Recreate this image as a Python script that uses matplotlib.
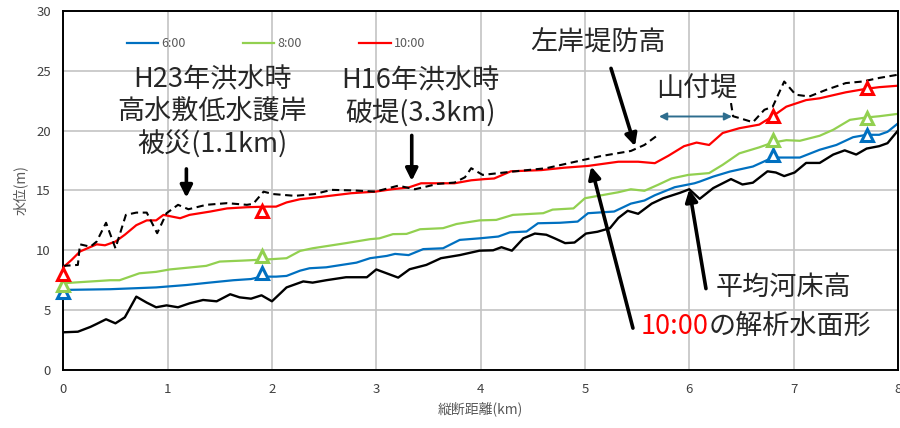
import numpy as np
import matplotlib
matplotlib.use("Agg")
import matplotlib.pyplot as plt

plt.rcParams["font.family"] = ["Noto Sans CJK JP", "DejaVu Sans"]

# 縦断距離 (km) と各水位 (m)
bed_x = [0, 0.14, 0.26, 0.32, 0.41, 0.50, 0.59, 0.70, 0.80, 0.89, 0.99, 1.10, 1.21, 1.34,
         1.47, 1.60, 1.69, 1.80, 1.90, 2.00, 2.08, 2.14, 2.30, 2.39, 2.52, 2.71, 2.91, 3.00,
         3.21, 3.32, 3.48, 3.62, 3.80, 3.99, 4.12, 4.20, 4.30, 4.41, 4.52, 4.63, 4.71, 4.81,
         4.90, 5.01, 5.12, 5.24, 5.32, 5.41, 5.51, 5.64, 5.75, 5.91, 6.00, 6.10, 6.23, 6.40,
         6.51, 6.61, 6.75, 6.83, 6.91, 7.01, 7.12, 7.25, 7.38, 7.49, 7.60, 7.70, 7.82, 7.90, 8.00]
bed_z = [3.15, 3.2, 3.6, 3.85, 4.24, 3.9, 4.4, 6.13, 5.63, 5.24, 5.4, 5.24, 5.57, 5.85,
         5.74, 6.33, 6.07, 5.96, 6.24, 5.74, 6.4, 6.9, 7.4, 7.3, 7.5, 7.75, 7.75, 8.4,
         7.72, 8.42, 8.78, 9.34, 9.6, 9.97, 10.0, 10.26, 9.97, 11.0, 11.4, 11.3, 11.0, 10.6,
         10.65, 11.4, 11.55, 11.85, 12.7, 13.3, 13.05, 13.9, 14.35, 14.8, 15.1, 14.3, 15.2, 15.95,
         15.5, 15.65, 16.6, 16.5, 16.2, 16.5, 17.3, 17.3, 18.0, 18.35, 18.0, 18.5, 18.7, 18.95, 20.0]

wl06_x = [0, 0.45, 0.89, 1.18, 1.40, 1.63, 1.80, 1.90, 2.04, 2.14, 2.27, 2.36, 2.52, 2.81,
          2.94, 3.10, 3.18, 3.31, 3.45, 3.64, 3.80, 3.99, 4.17, 4.28, 4.44, 4.55, 4.76, 4.93,
          5.03, 5.28, 5.44, 5.57, 5.67, 5.86, 6.05, 6.10, 6.23, 6.39, 6.61, 6.80, 7.06, 7.25,
          7.41, 7.57, 7.70, 7.82, 7.90, 8.00]
wl06_z = [6.69, 6.75, 6.9, 7.1, 7.3, 7.5, 7.6, 7.8, 7.8, 7.86, 8.3, 8.5, 8.58, 8.97,
          9.34, 9.53, 9.7, 9.6, 10.1, 10.17, 10.87, 11.0, 11.15, 11.5, 11.57, 12.26, 12.3, 12.4,
          13.1, 13.24, 13.9, 14.16, 14.6, 15.27, 15.6, 15.74, 16.16, 16.58, 17.0, 17.75, 17.75, 18.4,
          18.8, 19.45, 19.65, 19.65, 19.9, 20.6]

wl08_x = [0, 0.45, 0.54, 0.73, 0.89, 1.02, 1.37, 1.50, 1.72, 1.98, 2.14, 2.27, 2.39, 2.71,
          2.94, 3.03, 3.16, 3.29, 3.42, 3.64, 3.77, 3.99, 4.15, 4.31, 4.60, 4.69, 4.89, 5.00,
          5.16, 5.32, 5.44, 5.57, 5.70, 5.83, 5.99, 6.19, 6.32, 6.48, 6.67, 6.80, 6.93, 7.06,
          7.25, 7.38, 7.54, 7.70, 7.82, 8.00]
wl08_z = [7.25, 7.5, 7.5, 8.08, 8.2, 8.4, 8.7, 9.06, 9.14, 9.25, 9.34, 9.95, 10.17, 10.6,
          10.93, 11.0, 11.35, 11.37, 11.76, 11.85, 12.2, 12.5, 12.54, 12.96, 13.1, 13.4, 13.5, 14.35,
          14.6, 14.85, 15.1, 14.97, 15.47, 16.0, 16.3, 16.45, 17.14, 18.1, 18.6, 19.0, 19.2, 19.15,
          19.57, 20.07, 20.9, 21.1, 21.2, 21.4]

wl10_x = [0, 0.08, 0.16, 0.32, 0.40, 0.50, 0.59, 0.70, 0.80, 0.89, 0.96, 1.12, 1.21, 1.41,
          1.57, 1.76, 1.95, 2.04, 2.14, 2.27, 2.41, 2.76, 2.99, 3.15, 3.31, 3.43, 3.62, 3.75,
          3.91, 4.04, 4.13, 4.29, 4.58, 4.80, 5.03, 5.32, 5.51, 5.67, 5.80, 5.95, 6.07, 6.19,
          6.32, 6.48, 6.67, 6.80, 6.93, 7.12, 7.25, 7.50, 7.70, 7.82, 8.00]
wl10_z = [8.58, 9.2, 9.9, 10.5, 10.42, 10.73, 11.3, 12.1, 12.5, 12.5, 12.96, 12.68, 12.96, 13.24,
          13.5, 13.6, 13.65, 13.65, 14.0, 14.27, 14.4, 14.77, 14.9, 15.1, 15.25, 15.6, 15.6, 15.6,
          15.85, 15.95, 16.0, 16.6, 16.7, 16.9, 17.05, 17.4, 17.4, 17.28, 17.9, 18.7, 19.0, 18.8,
          19.8, 20.2, 20.5, 21.2, 22.0, 22.55, 22.7, 23.2, 23.5, 23.63, 23.75]

# 左岸堤防高 (山付堤区間は欠測)
levee_x = [0, 0.14, 0.16, 0.26, 0.32, 0.41, 0.50, 0.60, 0.70, 0.80, 0.90, 0.99, 1.10, 1.20,
           1.37, 1.57, 1.76, 1.82, 1.92, 2.01, 2.22, 2.41, 2.57, 2.79, 2.99, 3.21, 3.37, 3.59,
           3.75, 3.85, 3.91, 4.02, 4.31, 4.63, 5.01, 5.14, 5.44, 5.57, 5.71,
           6.05,
           6.40, 6.42, 6.48, 6.61, 6.72, 6.80, 6.91, 7.02, 7.15, 7.31, 7.50, 7.66, 7.82, 8.00]
levee_z = [8.7, 8.78, 10.5, 10.3, 10.73, 12.3, 10.17, 12.96, 13.15, 13.15, 11.43, 13.1, 13.8, 13.43,
           13.8, 13.94, 13.8, 13.88, 14.9, 14.7, 14.55, 14.7, 15.05, 15.0, 14.9, 15.4, 15.1, 15.55,
           15.66, 16.1, 16.86, 16.3, 16.58, 16.86, 17.6, 17.85, 18.3, 18.8, 19.7,
           np.nan,
           22.3, 21.2, 21.05, 20.7, 21.74, 22.0, 24.1, 23.0, 22.85, 23.4, 23.97, 24.1, 24.4, 24.67]

# 観測水位
obs_x = [0, 1.9, 6.8, 7.7]
obs06 = [6.55, 8.1, 18.0, 19.65]
obs08 = [7.1, 9.5, 19.2, 21.05]
obs10 = [8.0, 13.3, 21.22, 23.55]

C_BLUE = "#0070C0"
C_GREEN = "#92D050"
C_RED = "#FF0000"
TXT = "#262626"


def arrow(ax, head, tail, color="black", lw=2.6, style="-|>", scale=18):
    ax.annotate("", xy=head, xytext=tail,
                arrowprops=dict(arrowstyle=style, color=color, lw=lw,
                                mutation_scale=scale, shrinkA=0, shrinkB=0))


def plot_profile():
    fig = plt.figure(figsize=(9, 4.28), dpi=100)
    ax = fig.add_axes([0.0703, 0.1355, 0.9274, 0.839])

    ax.plot(wl06_x, wl06_z, color=C_BLUE, lw=1.6, label="6:00")
    ax.plot(wl08_x, wl08_z, color=C_GREEN, lw=1.6, label="8:00")
    ax.plot(wl10_x, wl10_z, color=C_RED, lw=1.6, label="10:00")
    ax.plot(bed_x, bed_z, color="black", lw=1.7)
    ax.plot(levee_x, levee_z, color="black", lw=1.5, ls=(0, (3.5, 2.2)))

    for z, c in [(obs06, C_BLUE), (obs08, C_GREEN), (obs10, C_RED)]:
        ax.plot(obs_x, z, ls="none", marker="^", ms=9, mew=2.2,
                mec=c, mfc="white", zorder=5, clip_on=False)

    ax.set_xlim(0, 8)
    ax.set_ylim(0, 30)
    ax.set_xticks(range(0, 9))
    ax.set_yticks(range(0, 31, 5))
    ax.grid(True, color="#c4c4c4", lw=1.2)
    ax.set_axisbelow(True)
    ax.tick_params(length=0, pad=9, labelsize=9.5, labelcolor="#404040")
    for s in ax.spines.values():
        s.set_color("black")
        s.set_linewidth(1.4)
    ax.set_xlabel("縦断距離(km)", fontsize=10, color="#595959", labelpad=4)
    ax.set_ylabel("水位(m)", fontsize=10, color="#595959", labelpad=6)

    ax.legend(loc="center left", bbox_to_anchor=(0.0763, 0.908), ncol=3,
              frameon=False, fontsize=9, labelcolor="#595959",
              handlelength=2.5, handletextpad=0.25, columnspacing=4.6,
              borderpad=0, borderaxespad=0)

    fs = 19.5
    ax.text(1.43, 21.5, "H23年洪水時\n高水敷低水護岸\n被災(1.1km)", fontsize=fs,
            color=TXT, ha="center", va="center", linespacing=1.22)
    arrow(ax, (1.18, 14.4), (1.18, 16.8))

    ax.text(3.42, 22.8, "H16年洪水時\n破堤(3.3km)", fontsize=fs,
            color=TXT, ha="center", va="center", linespacing=1.22)
    arrow(ax, (3.34, 15.8), (3.34, 19.6))

    ax.text(5.13, 27.3, "左岸堤防高", fontsize=fs, color=TXT, ha="center", va="center")
    arrow(ax, (5.48, 18.7), (5.25, 25.2))

    ax.text(6.07, 23.5, "山付堤", fontsize=fs, color=TXT, ha="center", va="center")
    arrow(ax, (6.41, 21.18), (5.71, 21.18), color="#2E6D8E", lw=1.4,
          style="<|-|>", scale=11)

    ax.text(6.90, 6.86, "平均河床高", fontsize=fs, color=TXT, ha="center", va="center")
    arrow(ax, (6.0, 15.1), (6.16, 6.8))

    ax.text(6.19, 3.62, "10:00", fontsize=fs, color=C_RED, ha="right", va="center")
    ax.text(6.19, 3.62, "の解析水面形", fontsize=fs, color=TXT, ha="left", va="center")
    arrow(ax, (5.06, 17.0), (5.46, 3.5))

    fig.savefig("out.png", dpi=100)


plot_profile()
